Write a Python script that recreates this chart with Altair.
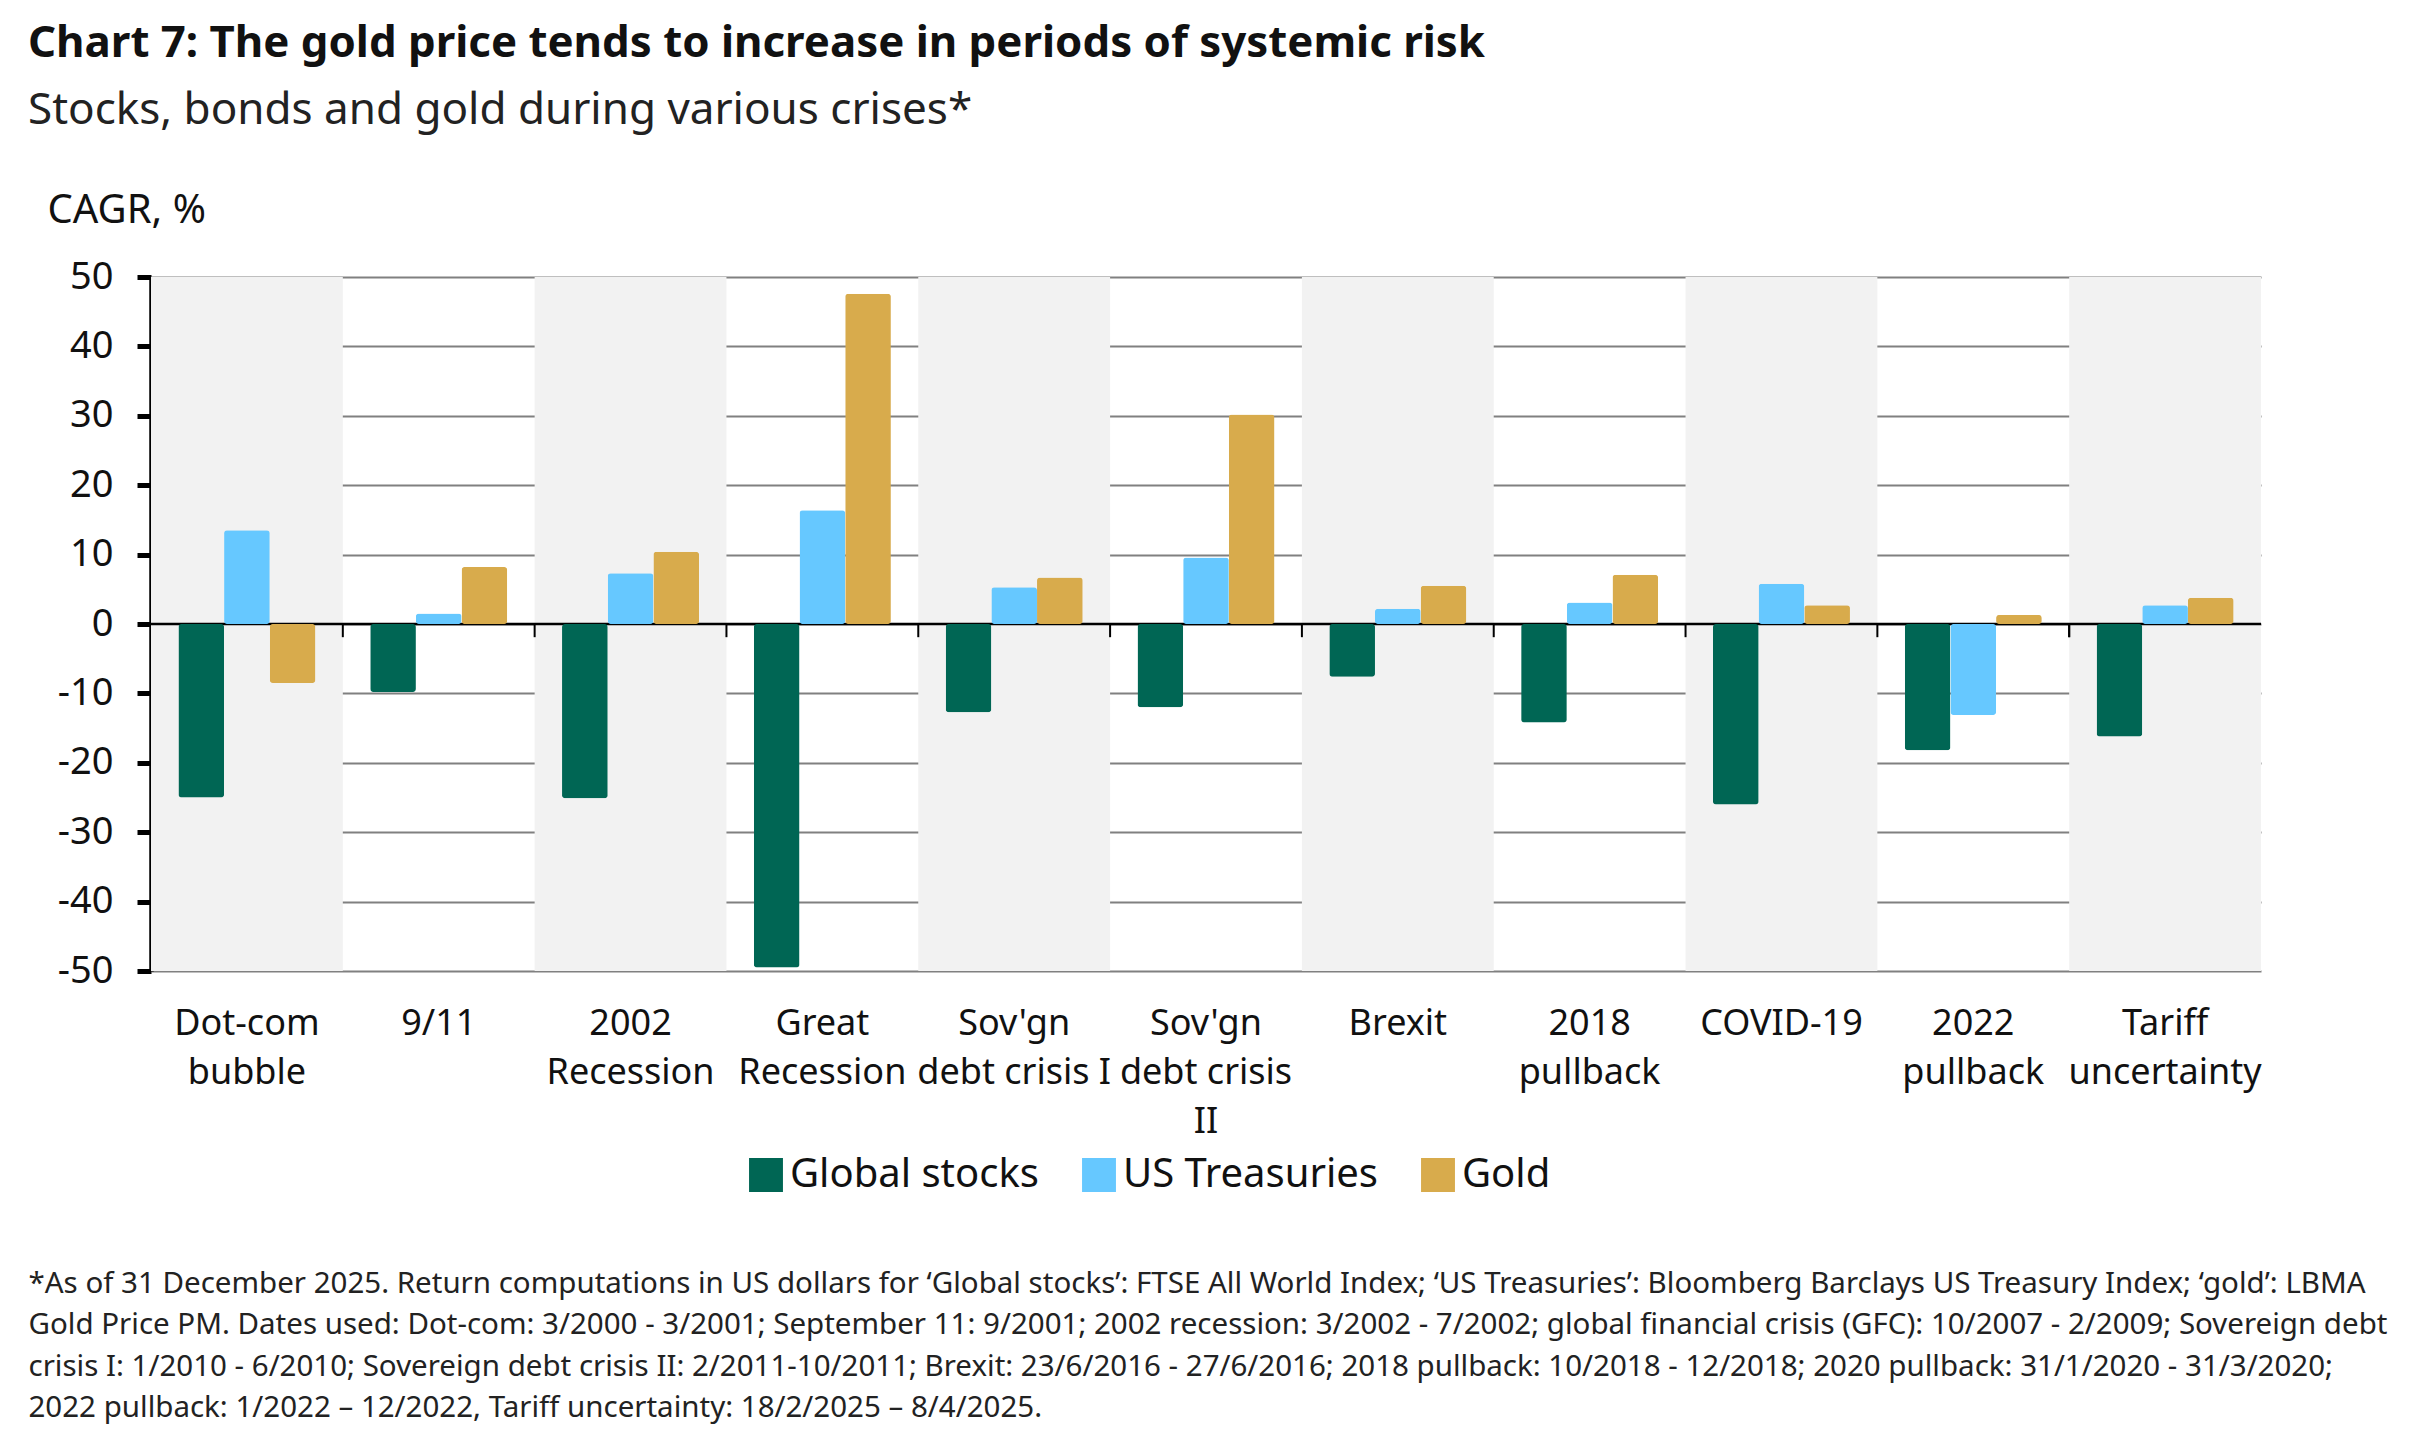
import altair as alt
import pandas as pd

categories = ["Dot-com\nbubble", "9/11", "2002\nRecession", "Great\nRecession",
              "Sov'gn\ndebt crisis I", "Sov'gn\ndebt crisis\nII", "Brexit",
              "2018\npullback", "COVID-19", "2022\npullback", "Tariff\nuncertainty"]
series = ["Global stocks", "US Treasuries", "Gold"]
global_stocks = [-25.0, -9.8, -25.1, -49.5, -12.7, -12.0, -7.6, -14.2, -26.0, -18.2, -16.2]
us_treasuries = [13.5, 1.5, 7.3, 16.4, 5.3, 9.6, 2.2, 3.1, 5.8, -13.1, 2.7]
gold = [-8.5, 8.2, 10.4, 47.6, 6.7, 30.2, 5.5, 7.1, 2.7, 1.3, 3.8]
colors = ["#006654", "#66C8FF", "#D8AB4C"]
shaded = [categories[i] for i in range(0, len(categories), 2)]

rows = []
for i, c in enumerate(categories):
    for s, vals in zip(series, [global_stocks, us_treasuries, gold]):
        rows.append({"cat": c, "series": s, "value": vals[i]})
df = pd.DataFrame(rows)
bands = pd.DataFrame({"cat": shaded, "lo": [-50] * len(shaded), "hi": [50] * len(shaded)})
ticks_df = pd.DataFrame({"cat": categories[1:] + [categories[-1]],
                         "pos": [0] * (len(categories) - 1) + [1]})

footnote = [
    "*As of 31 December 2025. Return computations in US dollars for \u2018Global stocks\u2019: FTSE All World Index; \u2018US Treasuries\u2019: Bloomberg Barclays US Treasury Index; \u2018gold\u2019: LBMA",
    "Gold Price PM. Dates used: Dot-com: 3/2000 - 3/2001; September 11: 9/2001; 2002 recession: 3/2002 - 7/2002; global financial crisis (GFC): 10/2007 - 2/2009; Sovereign debt",
    "crisis I: 1/2010 - 6/2010; Sovereign debt crisis II: 2/2011-10/2011; Brexit: 23/6/2016 - 27/6/2016; 2018 pullback: 10/2018 - 12/2018; 2020 pullback: 31/1/2020 - 31/3/2020;",
    "2022 pullback: 1/2022 \u2013 12/2022, Tariff uncertainty: 18/2/2025 \u2013 8/4/2025.",
]

FONT = "Noto Sans"

xenc = alt.X("cat:N", sort=categories,
             scale=alt.Scale(paddingInner=0, paddingOuter=0),
             axis=alt.Axis(title=footnote, titleFontSize=29.5, titleFontWeight="normal",
                           titleFont=FONT, titleColor="#222", titleAnchor="start",
                           titleAlign="left", titleBaseline="top", titleLineHeight=41.5,
                           titleX=-123, titleY=298,
                           labelExpr="split(datum.value, '\\n')", labelFontSize=36,
                           labelLineHeight=49, labelPadding=35, labelAngle=0, labelLimit=0,
                           labelColor="#111", labelFont=FONT,
                           ticks=False, domain=False, grid=False))

yscale = alt.Scale(domain=[-50, 50], nice=False)
yaxis = alt.Axis(values=list(range(-50, 51, 10)), title="CAGR, %", titleAngle=0,
                 titleAlign="left", titleBaseline="middle", titleX=-104, titleY=-67,
                 titleFontSize=40, titleFontWeight="normal", titleFont=FONT, titleColor="#111",
                 labelExpr="replace(datum.label, '\u2212', '-')",
                 labelFontSize=38, labelFont=FONT, labelColor="#111", labelPadding=24,
                 tickSize=14, tickWidth=5, tickColor="black",
                 domainColor="black", domainWidth=4.5,
                 grid=True, gridColor="#808080", gridWidth=1.8)

bg = alt.Chart(bands).mark_rect(color="#F2F2F2").encode(
    x=xenc,
    y=alt.Y("lo:Q", scale=yscale, axis=yaxis),
    y2="hi:Q",
)

zero = alt.Chart(pd.DataFrame({"v": [0]})).mark_rule(color="black", strokeWidth=2.5).encode(
    y=alt.Y("v:Q", scale=yscale))

bars = alt.Chart(df).mark_bar(cornerRadius=3).encode(
    x=alt.X("cat:N", sort=categories),
    xOffset=alt.XOffset("series:N", sort=series,
                        scale=alt.Scale(paddingInner=0, paddingOuter=0.6)),
    y=alt.Y("value:Q", scale=yscale),
    color=alt.Color("series:N", sort=series,
                    scale=alt.Scale(domain=series, range=colors),
                    legend=alt.Legend(title=None, orient="none", legendX=595, legendY=878,
                                      direction="horizontal", symbolType="square",
                                      symbolSize=1150, symbolStrokeWidth=0,
                                      labelFontSize=40, labelFont=FONT, labelColor="#111",
                                      labelLimit=0, labelOffset=4, columnPadding=40)),
)

tick_marks = alt.Chart(ticks_df).mark_rule(color="black", strokeWidth=2).encode(
    x=alt.X("cat:N", sort=categories, bandPosition=0),
    y=alt.datum(0),
    y2=alt.datum(-1.9),
)

chart = alt.layer(bg, zero, bars, tick_marks).properties(
    width=2110, height=694,
    autosize=alt.AutoSizeParams(type="none"),
    title=alt.TitleParams(
        text="Chart 7: The gold price tends to increase in periods of systemic risk",
        subtitle="Stocks, bonds and gold during various crises*",
        anchor="start", frame="group", dx=-123, offset=57,
        fontSize=43.8, fontWeight="bold", font=FONT, color="#111",
        subtitleFontSize=44, subtitleFont=FONT, subtitleColor="#222", subtitlePadding=23,
    ),
    padding={"left": 143, "top": 269, "right": 155, "bottom": 457},
).configure_view(stroke=None)

chart.save("out.html", embed_options={"renderer": "svg", "actions": False})
